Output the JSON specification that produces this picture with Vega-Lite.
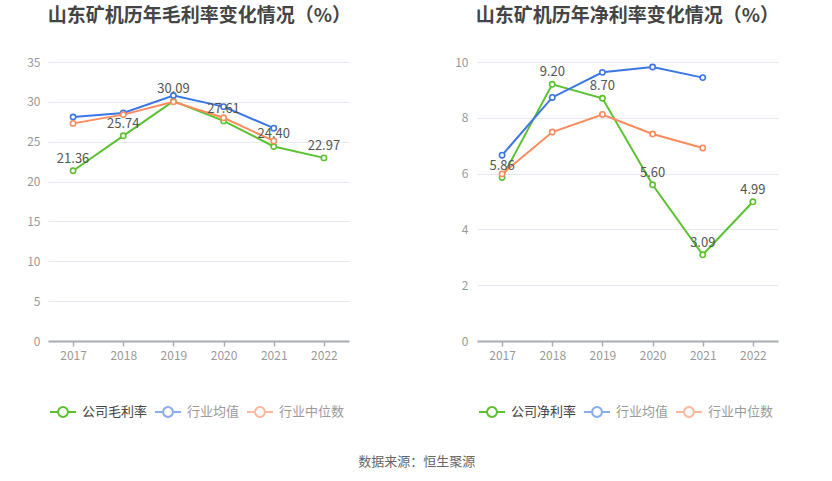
{
  "$schema": "https://vega.github.io/schema/vega-lite/v6.json",
  "background": "white",
  "padding": {"left": 26, "top": 7, "right": 5, "bottom": 5},
  "config": {
    "font": "Noto Sans CJK SC",
    "view": {"stroke": null},
    "title": {"font": "Noto Sans CJK SC"},
    "axis": {"labelFont": "Noto Sans CJK SC"},
    "legend": {"labelFont": "Noto Sans CJK SC"}
  },
  "datasets": {
    "gross": [
      {"year": "2017", "series": "公司毛利率", "value": 21.36},
      {"year": "2018", "series": "公司毛利率", "value": 25.74},
      {"year": "2019", "series": "公司毛利率", "value": 30.09},
      {"year": "2020", "series": "公司毛利率", "value": 27.61},
      {"year": "2021", "series": "公司毛利率", "value": 24.40},
      {"year": "2022", "series": "公司毛利率", "value": 22.97},
      {"year": "2017", "series": "行业均值", "value": 28.1},
      {"year": "2018", "series": "行业均值", "value": 28.6},
      {"year": "2019", "series": "行业均值", "value": 30.8},
      {"year": "2020", "series": "行业均值", "value": 29.4},
      {"year": "2021", "series": "行业均值", "value": 26.7},
      {"year": "2017", "series": "行业中位数", "value": 27.3},
      {"year": "2018", "series": "行业中位数", "value": 28.4},
      {"year": "2019", "series": "行业中位数", "value": 30.0},
      {"year": "2020", "series": "行业中位数", "value": 28.0},
      {"year": "2021", "series": "行业中位数", "value": 25.1}
    ],
    "net": [
      {"year": "2017", "series": "公司净利率", "value": 5.86},
      {"year": "2018", "series": "公司净利率", "value": 9.20},
      {"year": "2019", "series": "公司净利率", "value": 8.70},
      {"year": "2020", "series": "公司净利率", "value": 5.60},
      {"year": "2021", "series": "公司净利率", "value": 3.09},
      {"year": "2022", "series": "公司净利率", "value": 4.99},
      {"year": "2017", "series": "行业均值", "value": 6.66},
      {"year": "2018", "series": "行业均值", "value": 8.73},
      {"year": "2019", "series": "行业均值", "value": 9.63},
      {"year": "2020", "series": "行业均值", "value": 9.82},
      {"year": "2021", "series": "行业均值", "value": 9.44},
      {"year": "2017", "series": "行业中位数", "value": 5.99},
      {"year": "2018", "series": "行业中位数", "value": 7.49},
      {"year": "2019", "series": "行业中位数", "value": 8.12},
      {"year": "2020", "series": "行业中位数", "value": 7.42},
      {"year": "2021", "series": "行业中位数", "value": 6.92}
    ]
  },
  "title": {
    "text": "数据来源：恒生聚源",
    "orient": "bottom",
    "anchor": "middle",
    "fontSize": 13,
    "fontWeight": "normal",
    "color": "#666666",
    "offset": 35,
    "dx": 14
  },
  "spacing": 103,
  "resolve": {"scale": {"color": "independent", "y": "independent"}, "legend": {"color": "independent"}},
  "hconcat": [
    {
      "width": 301,
      "height": 279,
      "title": {"text": "山东矿机历年毛利率变化情况（%）", "anchor": "start", "fontSize": 19, "fontWeight": "bold", "color": "#444444", "offset": 30, "dx": 21},
      "data": {"name": "gross"},
      "encoding": {
        "x": {"field": "year", "type": "ordinal", "scale": {"type": "point", "padding": 0.5},
          "axis": {"title": null, "labelAngle": 0, "labelColor": "#999999", "labelFontSize": 12, "domainColor": "#a9acb3", "domainWidth": 2, "tickColor": "#a9acb3", "tickWidth": 1.5, "tickSize": 5, "labelPadding": 4, "grid": false}},
        "y": {"field": "value", "type": "quantitative", "scale": {"domain": [0, 35], "nice": false},
          "axis": {"title": null, "values": [0, 5, 10, 15, 20, 25, 30, 35], "domain": false, "ticks": false, "labelColor": "#999999", "labelFontSize": 12, "labelPadding": 8, "gridColor": "#e6e9f4", "gridWidth": 1}}
      },
      "layer": [
        {
          "mark": {"type": "line", "strokeWidth": 2},
          "encoding": {
            "color": {"field": "series", "type": "nominal",
              "scale": {"domain": ["公司毛利率", "行业均值", "行业中位数"], "range": ["#5bc130", "#3b76e4", "#ff8a5c"]},
              "legend": {
                "title": null, "orient": "none", "legendX": 1, "legendY": 336, "direction": "horizontal",
                "symbolType": "M-1,0L-0.38,0M0.38,0L1,0M-0.38,0A0.38,0.38,0,1,0,0.38,0A0.38,0.38,0,1,0,-0.38,0Z",
                "symbolSize": 676, "symbolStrokeWidth": 2, "symbolFillColor": "white",
                "labelFontSize": 13, "labelColor": "#333333", "columnPadding": 3, "labelOffset": 5,
                "encode": {
                  "labels": {"update": {"fill": {"signal": "datum.index === 0 ? '#444444' : '#9a9a9a'"}}},
                  "symbols": {"update": {"opacity": {"signal": "datum.index === 0 ? 1 : 0.6"}, "fill": {"value": "white"}}}
                }
              }}
          }
        },
        {
          "mark": {"type": "point", "filled": true, "fill": "white", "size": 28, "strokeWidth": 1.6, "opacity": 1},
          "encoding": {
            "stroke": {"field": "series", "type": "nominal", "scale": {"domain": ["公司毛利率", "行业均值", "行业中位数"], "range": ["#5bc130", "#3b76e4", "#ff8a5c"]}, "legend": null}
          }
        },
        {
          "transform": [{"filter": "datum.series === '公司毛利率'"}],
          "mark": {"type": "text", "baseline": "bottom", "dy": -5, "fontSize": 13, "color": "#555555"},
          "encoding": {"text": {"field": "value", "type": "quantitative", "format": ".2f"}}
        }
      ]
    },
    {
      "width": 301,
      "height": 279,
      "title": {"text": "山东矿机历年净利率变化情况（%）", "anchor": "start", "fontSize": 19, "fontWeight": "bold", "color": "#444444", "offset": 30, "dx": 21},
      "data": {"name": "net"},
      "encoding": {
        "x": {"field": "year", "type": "ordinal", "scale": {"type": "point", "padding": 0.5},
          "axis": {"title": null, "labelAngle": 0, "labelColor": "#999999", "labelFontSize": 12, "domainColor": "#a9acb3", "domainWidth": 2, "tickColor": "#a9acb3", "tickWidth": 1.5, "tickSize": 5, "labelPadding": 4, "grid": false}},
        "y": {"field": "value", "type": "quantitative", "scale": {"domain": [0, 10], "nice": false},
          "axis": {"title": null, "values": [0, 2, 4, 6, 8, 10], "domain": false, "ticks": false, "labelColor": "#999999", "labelFontSize": 12, "labelPadding": 9, "gridColor": "#e6e9f4", "gridWidth": 1}}
      },
      "layer": [
        {
          "mark": {"type": "line", "strokeWidth": 2},
          "encoding": {
            "color": {"field": "series", "type": "nominal",
              "scale": {"domain": ["公司净利率", "行业均值", "行业中位数"], "range": ["#5bc130", "#3b76e4", "#ff8a5c"]},
              "legend": {
                "title": null, "orient": "none", "legendX": 1, "legendY": 336, "direction": "horizontal",
                "symbolType": "M-1,0L-0.38,0M0.38,0L1,0M-0.38,0A0.38,0.38,0,1,0,0.38,0A0.38,0.38,0,1,0,-0.38,0Z",
                "symbolSize": 676, "symbolStrokeWidth": 2, "symbolFillColor": "white",
                "labelFontSize": 13, "labelColor": "#333333", "columnPadding": 3, "labelOffset": 5,
                "encode": {
                  "labels": {"update": {"fill": {"signal": "datum.index === 0 ? '#444444' : '#9a9a9a'"}}},
                  "symbols": {"update": {"opacity": {"signal": "datum.index === 0 ? 1 : 0.6"}, "fill": {"value": "white"}}}
                }
              }}
          }
        },
        {
          "mark": {"type": "point", "filled": true, "fill": "white", "size": 28, "strokeWidth": 1.6, "opacity": 1},
          "encoding": {
            "stroke": {"field": "series", "type": "nominal", "scale": {"domain": ["公司净利率", "行业均值", "行业中位数"], "range": ["#5bc130", "#3b76e4", "#ff8a5c"]}, "legend": null}
          }
        },
        {
          "transform": [{"filter": "datum.series === '公司净利率'"}],
          "mark": {"type": "text", "baseline": "bottom", "dy": -5, "fontSize": 13, "color": "#555555"},
          "encoding": {"text": {"field": "value", "type": "quantitative", "format": ".2f"}}
        }
      ]
    }
  ]
}
